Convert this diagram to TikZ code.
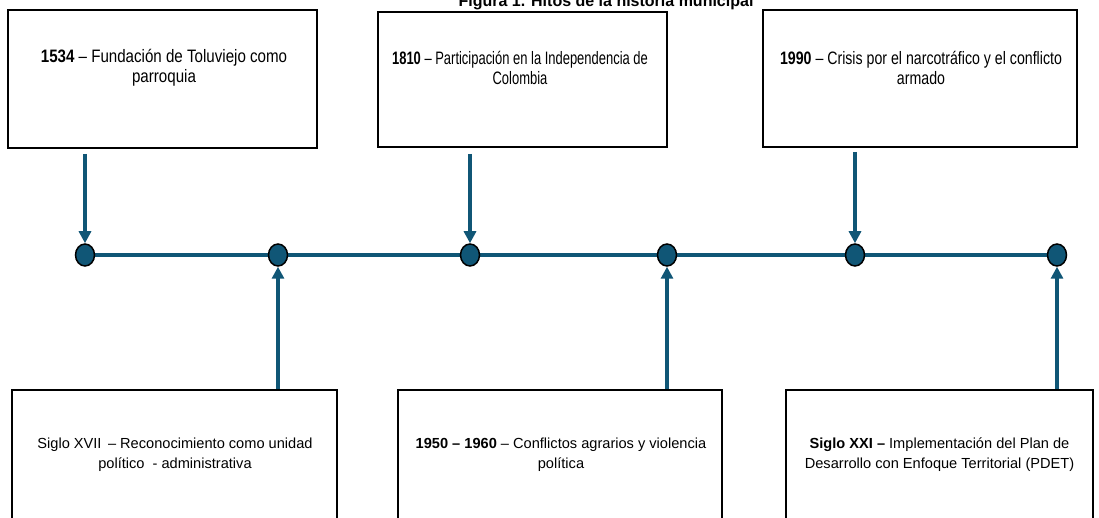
\documentclass[tikz,border=0pt]{standalone}
\usepackage{fontspec}
\setmainfont{Liberation Sans}
\newfontfamily\narrowA[FakeStretch=0.84]{Liberation Sans}
\newfontfamily\narrowB[FakeStretch=0.72]{Liberation Sans}
\newfontfamily\narrowC[FakeStretch=0.787]{Liberation Sans}
\usetikzlibrary{arrows.meta,shapes.geometric}
\definecolor{teal1}{RGB}{16,86,118}
\tikzset{
  box/.style={draw=black, line width=1.6pt, fill=white, inner sep=0pt},
  toptext/.style={font=#1\fontsize{18}{20}\selectfont, align=center, inner sep=0pt},
  bottext/.style={font=\fontsize{14.6}{20}\selectfont, align=center, inner sep=0pt},
  dot/.style={ellipse, draw=black, line width=1.5pt, fill=teal1, minimum width=19pt, minimum height=22pt, inner sep=0pt},
  tline/.style={draw=teal1, line width=4pt},
  arr/.style={draw=teal1, line width=3.5pt, -{Triangle[width=12pt,length=12pt]}}
}
\begin{document}
\begin{tikzpicture}[x=1pt,y=-1pt]
\clip (0,0) rectangle (1099,518);
\fill[white] (0,0) rectangle (1099,518);
% title
\node[anchor=base, font=\bfseries\fontsize{16}{18}\selectfont, inner sep=0pt] (title) at (606,7) {Figura 1. Hitos de la historia municipal};
% top boxes
\node[box, minimum width=309pt, minimum height=138pt] (b1) at (162.5,79) {};
\node[box, minimum width=289pt, minimum height=135pt] (b2) at (522.5,79.5) {};
\node[box, minimum width=314pt, minimum height=137pt] (b3) at (920,78.5) {};
\node[toptext=\narrowA] (t1) at (164,68) {\textbf{1534} – Fundación de Toluviejo como\\parroquia};
\node[toptext=\narrowB] (t2) at (520,68) {\textbf{1810} – Participación en la Independencia de\\Colombia};
\node[toptext=\narrowC] (t3) at (921,68) {\textbf{1990} – Crisis por el narcotráfico y el conflicto\\armado};
% bottom boxes
\node[box, minimum width=325pt, minimum height=140pt] (b4) at (174.5,460) {};
\node[box, minimum width=324pt, minimum height=140pt] (b5) at (560,460) {};
\node[box, minimum width=307pt, minimum height=140pt] (b6) at (939.5,460) {};
\node[bottext] (t4) at (175,455) {Siglo XVII \,– Reconocimiento como unidad\\político \ - administrativa};
\node[bottext] (t5) at (561,455) {\textbf{1950 – 1960} – Conflictos agrarios y violencia\\política};
\node[bottext] (t6) at (939.5,455) {\textbf{Siglo XXI –} Implementación del Plan de\\Desarrollo con Enfoque Territorial (PDET)};
% timeline
\coordinate (l1) at (85,255);
\coordinate (l6) at (1057,255);
\draw[tline] (l1) -- (l6);
\node[dot] (c1) at (85,255) {};
\node[dot] (c2) at (278,255) {};
\node[dot] (c3) at (470,255) {};
\node[dot] (c4) at (667,255) {};
\node[dot] (c5) at (855,255) {};
\node[dot] (c6) at (1057,255) {};
% arrows from top
\draw[arr] ([yshift=-5pt]c1 |- b1.south) -- (c1.north);
\draw[arr] ([yshift=-6pt]c3 |- b2.south) -- (c3.north);
\draw[arr] ([yshift=-4pt]c5 |- b3.south) -- (c5.north);
% arrows from bottom
\draw[arr] (c2 |- b4.north) -- (c2.south);
\draw[arr] (c4 |- b5.north) -- (c4.south);
\draw[arr] (c6 |- b6.north) -- (c6.south);
\end{tikzpicture}
\end{document}
